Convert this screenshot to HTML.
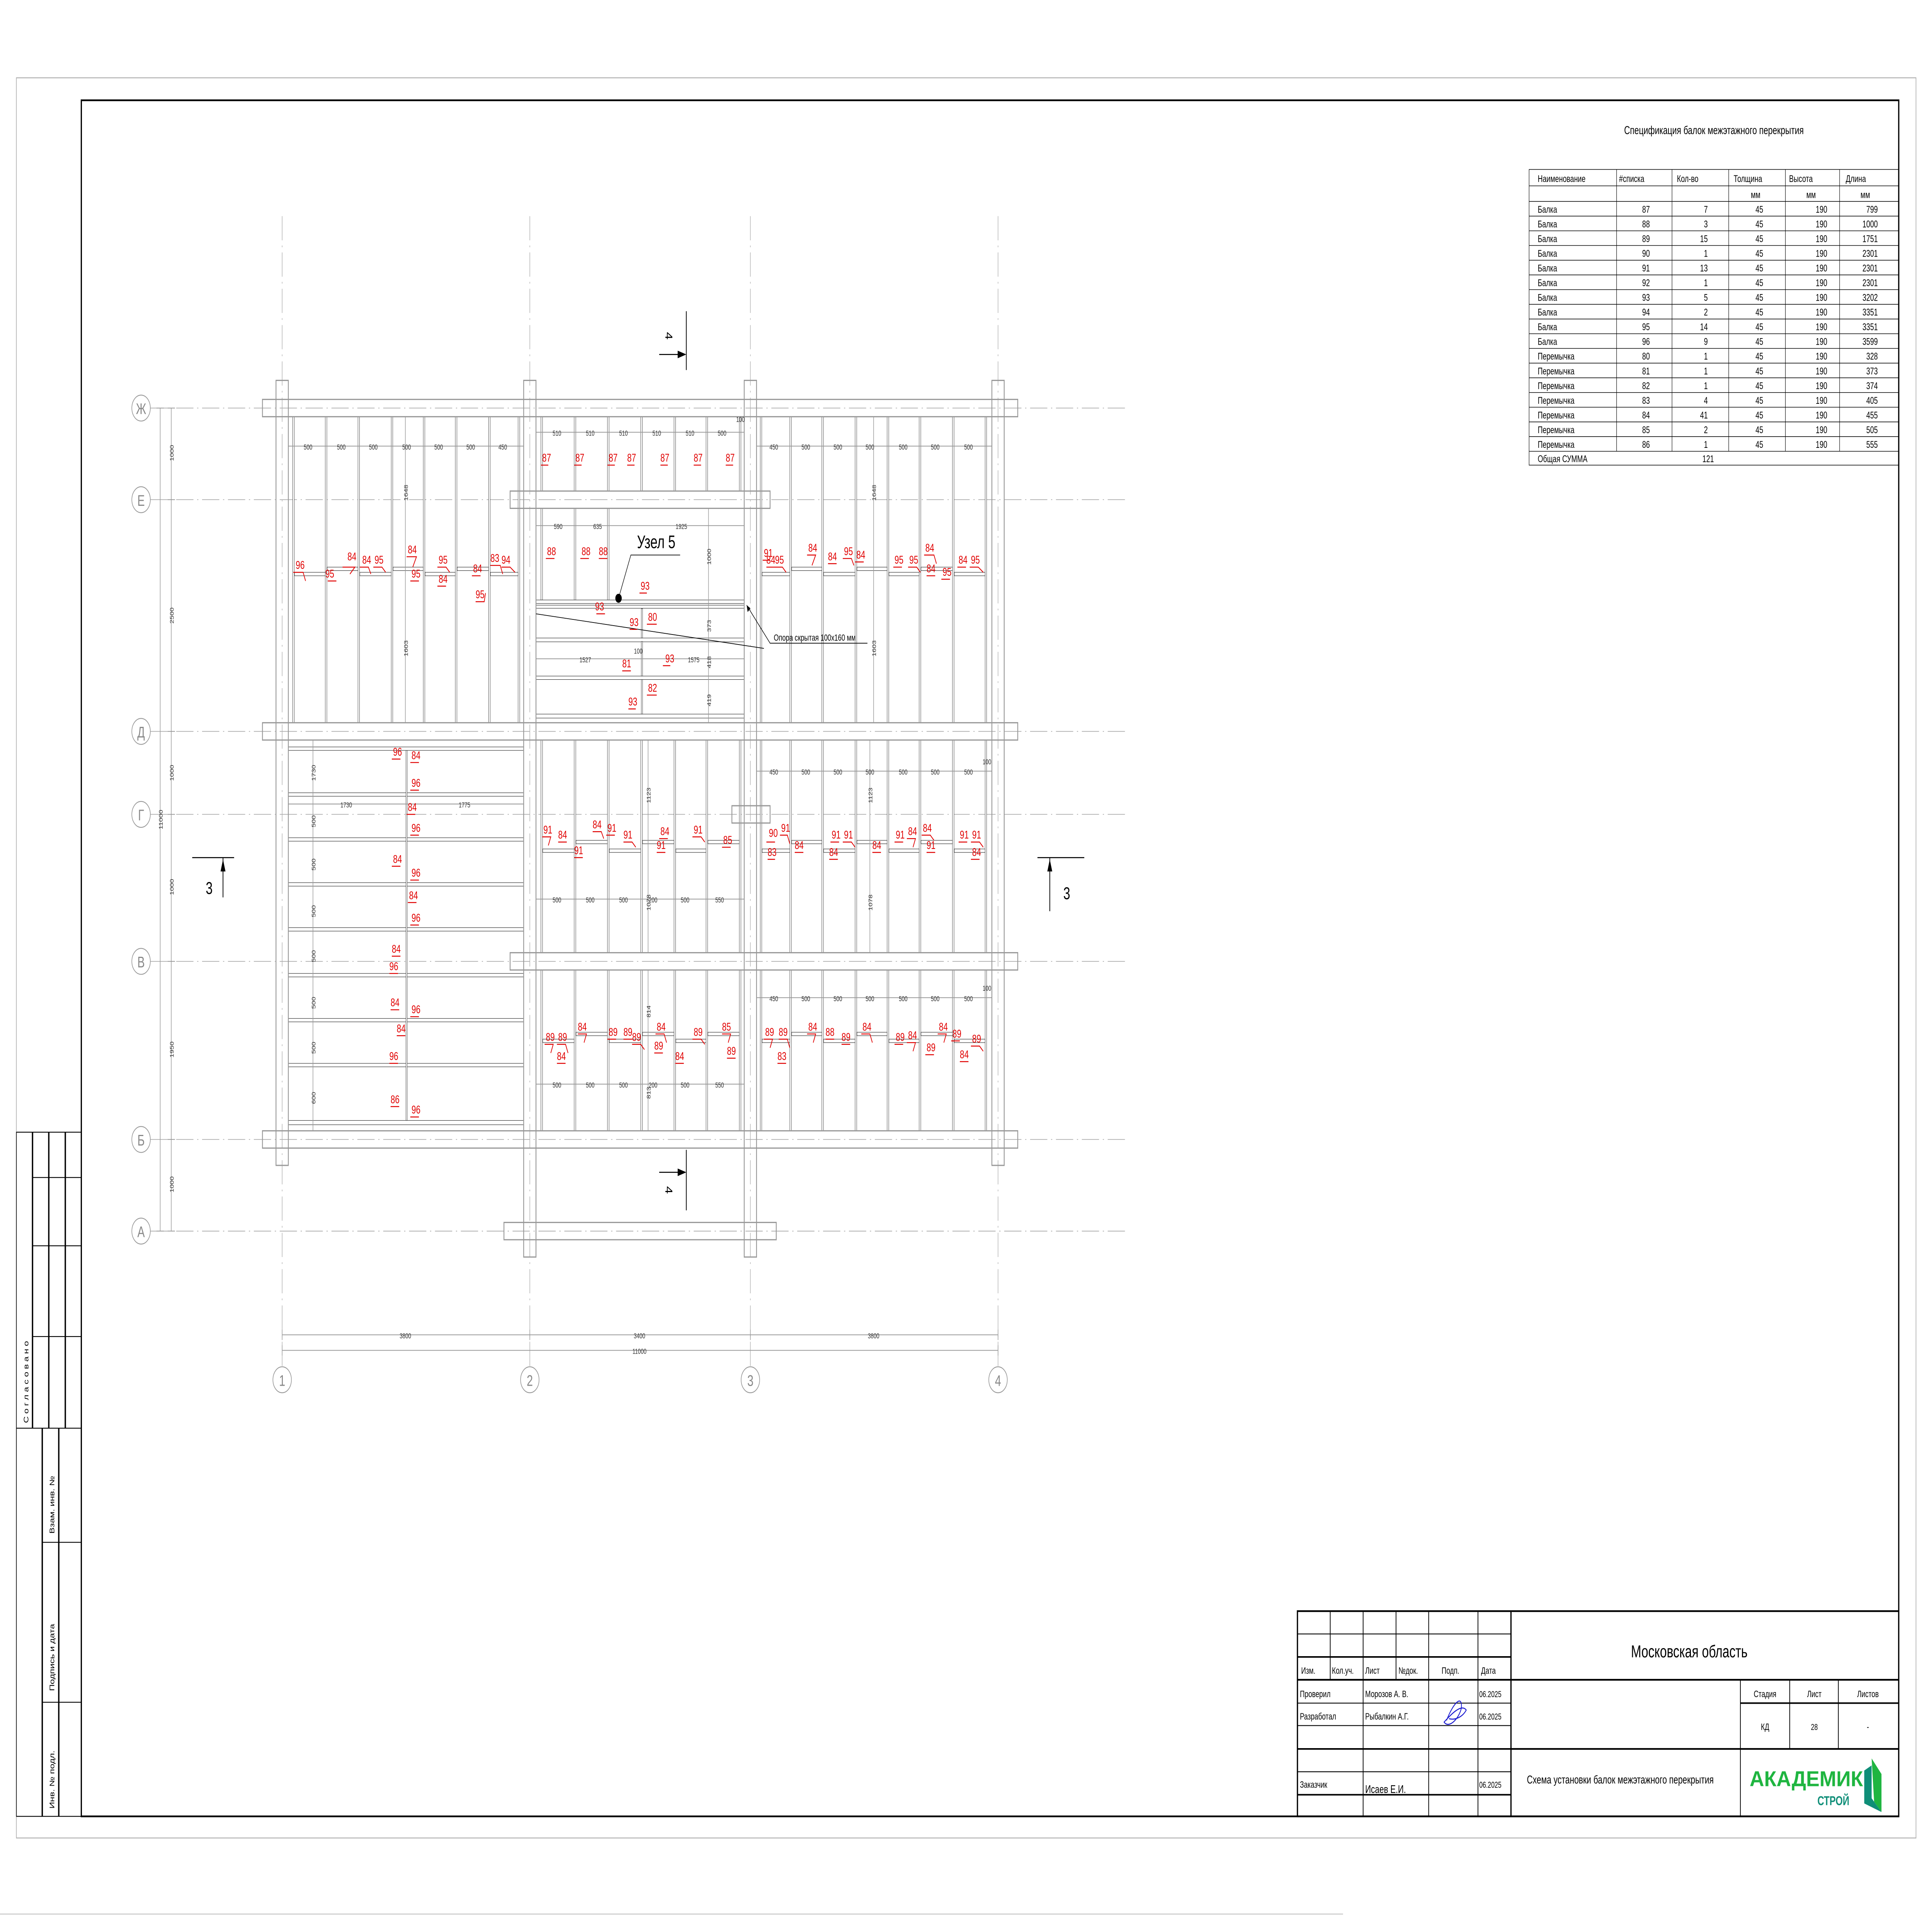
<!DOCTYPE html>
<html><head><meta charset="utf-8">
<style>
html,body{margin:0;padding:0;background:#fff;overflow:hidden;width:100%;height:100%;}
svg{display:block;position:fixed;left:0;top:0;width:100vw;height:100vh;}
text{font-family:"Liberation Sans Narrow","Liberation Sans","DejaVu Sans",sans-serif;}
.g{stroke:#999;stroke-width:0.7;fill:none;}
.ax{stroke:#aaa;stroke-width:0.4;fill:none;stroke-dasharray:14 3 1 3;}
.j{stroke:#222;stroke-width:0.25;fill:#fff;}
.dim{stroke:#999;stroke-width:0.45;fill:none;}
.dt{font-size:4.2px;fill:#333;}
.r text{font-size:6.5px;fill:#e00000;}
.r path{stroke:#e00000;stroke-width:0.55;fill:none;}
.tb{font-size:5.4px;fill:#000;}
.mono{font-family:"Liberation Mono","DejaVu Sans Mono",monospace;font-size:5.6px;fill:#000;}
</style></head>
<body>
<svg viewBox="0 0 1568 1108.7" preserveAspectRatio="none" xmlns="http://www.w3.org/2000/svg">
<rect x="0" y="0" width="1568" height="1108.7" fill="#fff"/>
<rect x="13.3" y="45" width="1541.7" height="1018" fill="none" stroke="#aaa" stroke-width="0.5"/>
<rect x="66" y="58" width="1475" height="992.5" fill="none" stroke="#000" stroke-width="1"/>
<line x1="0" y1="1107" x2="1090" y2="1107" stroke="#ccc" stroke-width="0.6"/>

<g stroke="#000" fill="none" stroke-width="0.5">
<rect x="13.3" y="654.8" width="52.7" height="395.7"/>
<line x1="26.4" y1="654.8" x2="26.4" y2="826" stroke-width="1.1"/>
<line x1="39.6" y1="654.8" x2="39.6" y2="826" stroke-width="1.1"/>
<line x1="53" y1="654.8" x2="53" y2="826" stroke-width="1.1"/>
<line x1="26.4" y1="681" x2="66" y2="681"/>
<line x1="26.4" y1="720.5" x2="66" y2="720.5"/>
<line x1="26.4" y1="773" x2="66" y2="773"/>
<line x1="13.3" y1="826" x2="66" y2="826"/>
<line x1="34.3" y1="826" x2="34.3" y2="1050.5" stroke-width="1.1"/>
<line x1="47.7" y1="826" x2="47.7" y2="1050.5" stroke-width="1.1"/>
<line x1="34.3" y1="892" x2="66" y2="892"/>
<line x1="34.3" y1="984.5" x2="66" y2="984.5"/>
</g>
<text class="tb" transform="translate(23,823) rotate(-90)" font-size="6" letter-spacing="1.5">Согласовано</text>
<text class="tb" transform="translate(44,887) rotate(-90)" font-size="6">Взам. инв. №</text>
<text class="tb" transform="translate(44,978) rotate(-90)" font-size="6">Подпись и дата</text>
<text class="tb" transform="translate(44,1046) rotate(-90)" font-size="6">Инв. № подл.</text>

<g class="ax">
<line x1="229" y1="125" x2="229" y2="790"/><line x1="430" y1="125" x2="430" y2="790"/>
<line x1="609" y1="125" x2="609" y2="790"/><line x1="810" y1="125" x2="810" y2="790"/>
<line x1="122" y1="236" x2="915" y2="236"/><line x1="122" y1="289" x2="915" y2="289"/>
<line x1="122" y1="423" x2="915" y2="423"/><line x1="122" y1="471" x2="915" y2="471"/>
<line x1="122" y1="556" x2="915" y2="556"/><line x1="122" y1="659" x2="915" y2="659"/>
<line x1="122" y1="712" x2="915" y2="712"/>
</g>
<g fill="#fff" stroke="#999" stroke-width="0.5">
<ellipse cx="114.5" cy="236" rx="7.5" ry="7.5"/><ellipse cx="114.5" cy="289" rx="7.5" ry="7.5"/>
<ellipse cx="114.5" cy="423" rx="7.5" ry="7.5"/><ellipse cx="114.5" cy="471" rx="7.5" ry="7.5"/>
<ellipse cx="114.5" cy="556" rx="7.5" ry="7.5"/><ellipse cx="114.5" cy="659" rx="7.5" ry="7.5"/>
<ellipse cx="114.5" cy="712" rx="7.5" ry="7.5"/>
<ellipse cx="229" cy="798" rx="7.5" ry="7.5"/><ellipse cx="430" cy="798" rx="7.5" ry="7.5"/>
<ellipse cx="609" cy="798" rx="7.5" ry="7.5"/><ellipse cx="810" cy="798" rx="7.5" ry="7.5"/>
</g>
<g font-size="9" fill="#888" text-anchor="middle">
<text x="114.5" y="239.5">Ж</text><text x="114.5" y="292.5">Е</text><text x="114.5" y="426.5">Д</text>
<text x="114.5" y="474.5">Г</text><text x="114.5" y="559.5">В</text><text x="114.5" y="662.5">Б</text>
<text x="114.5" y="715.5">А</text>
<text x="229" y="801.5">1</text><text x="430" y="801.5">2</text><text x="609" y="801.5">3</text><text x="810" y="801.5">4</text>
</g>

<g class="j">
<rect x="237.5" y="241" width="1.3" height="177"/><rect x="264" y="241" width="1.3" height="177"/>
<rect x="290.5" y="241" width="1.3" height="177"/><rect x="317.5" y="241" width="1.3" height="177"/>
<rect x="343.5" y="241" width="1.3" height="177"/><rect x="369.5" y="241" width="1.3" height="177"/>
<rect x="396.5" y="241" width="1.3" height="177"/><rect x="420.5" y="241" width="1.3" height="177"/>
<rect x="617" y="241" width="1.3" height="177"/><rect x="641" y="241" width="1.3" height="177"/>
<rect x="667" y="241" width="1.3" height="177"/><rect x="694" y="241" width="1.3" height="177"/>
<rect x="720" y="241" width="1.3" height="177"/><rect x="746" y="241" width="1.3" height="177"/>
<rect x="773" y="241" width="1.3" height="177"/><rect x="799.5" y="241" width="1.3" height="177"/>
<rect x="439" y="241" width="1.3" height="43"/><rect x="466" y="241" width="1.3" height="43"/>
<rect x="493" y="241" width="1.3" height="43"/><rect x="520" y="241" width="1.3" height="43"/>
<rect x="547" y="241" width="1.3" height="43"/><rect x="573" y="241" width="1.3" height="43"/>
<rect x="600" y="241" width="1.3" height="43"/>
<rect x="439" y="294" width="1.3" height="53"/><rect x="466" y="294" width="1.3" height="53"/>
<rect x="493" y="294" width="1.3" height="53"/>
<rect x="435" y="347" width="169" height="2"/><rect x="435" y="350" width="169" height="1.8"/>
<rect x="435" y="369" width="169" height="2.2"/><rect x="435" y="391" width="169" height="2"/>
<rect x="435" y="413" width="169" height="2.3"/>
<rect x="520.5" y="352" width="1" height="17"/><rect x="520.5" y="371" width="1" height="20"/><rect x="520.5" y="393" width="1" height="20"/>
<rect x="234" y="432" width="191" height="2"/><rect x="234" y="458.5" width="191" height="2"/>
<rect x="234" y="484.5" width="191" height="2"/><rect x="234" y="510.5" width="191" height="2"/>
<rect x="234" y="536.5" width="191" height="2"/><rect x="234" y="563" width="191" height="2"/>
<rect x="234" y="589" width="191" height="2"/><rect x="234" y="615" width="191" height="2"/>
<rect x="234" y="648" width="191" height="2.5"/>
<rect x="329.5" y="434" width="1" height="214"/>
<rect x="439" y="428" width="1.3" height="123"/><rect x="466" y="428" width="1.3" height="123"/>
<rect x="493" y="428" width="1.3" height="123"/><rect x="520" y="428" width="1.3" height="123"/>
<rect x="547" y="428" width="1.3" height="123"/><rect x="573" y="428" width="1.3" height="123"/>
<rect x="600" y="428" width="1.3" height="123"/>
<rect x="439" y="561" width="1.3" height="93"/><rect x="466" y="561" width="1.3" height="93"/>
<rect x="493" y="561" width="1.3" height="93"/><rect x="520" y="561" width="1.3" height="93"/>
<rect x="547" y="561" width="1.3" height="93"/><rect x="573" y="561" width="1.3" height="93"/>
<rect x="600" y="561" width="1.3" height="93"/>
<rect x="617" y="428" width="1.3" height="123"/><rect x="641" y="428" width="1.3" height="123"/>
<rect x="667" y="428" width="1.3" height="123"/><rect x="694" y="428" width="1.3" height="123"/>
<rect x="720" y="428" width="1.3" height="123"/><rect x="746" y="428" width="1.3" height="123"/>
<rect x="773" y="428" width="1.3" height="123"/><rect x="799.5" y="428" width="1.3" height="123"/>
<rect x="617" y="561" width="1.3" height="93"/><rect x="641" y="561" width="1.3" height="93"/>
<rect x="667" y="561" width="1.3" height="93"/><rect x="694" y="561" width="1.3" height="93"/>
<rect x="720" y="561" width="1.3" height="93"/><rect x="746" y="561" width="1.3" height="93"/>
<rect x="773" y="561" width="1.3" height="93"/><rect x="799.5" y="561" width="1.3" height="93"/>
<rect x="239" y="331" width="25" height="2"/><rect x="265.5" y="328" width="25" height="2"/>
<rect x="292" y="331" width="25.5" height="2"/><rect x="319" y="328" width="24.5" height="2"/>
<rect x="345" y="331" width="24.5" height="2"/><rect x="371" y="328" width="25.5" height="2"/>
<rect x="398" y="331" width="22.5" height="2"/>
<rect x="618.5" y="331" width="22.5" height="2"/><rect x="642.5" y="328" width="24.5" height="2"/>
<rect x="668.5" y="331" width="25.5" height="2"/><rect x="695.5" y="328" width="24.5" height="2"/>
<rect x="721.5" y="331" width="24.5" height="2"/><rect x="747.5" y="328" width="25.5" height="2"/>
<rect x="774.5" y="331" width="25" height="2"/>
<rect x="440.5" y="491" width="25.5" height="2"/><rect x="467.5" y="486" width="25.5" height="2"/>
<rect x="494.5" y="491" width="25.5" height="2"/><rect x="521.5" y="486" width="25.5" height="2"/>
<rect x="548.5" y="491" width="24.5" height="2"/><rect x="574.5" y="486" width="25.5" height="2"/>
<rect x="618.5" y="491" width="22.5" height="2"/><rect x="642.5" y="486" width="24.5" height="2"/>
<rect x="668.5" y="491" width="25.5" height="2"/><rect x="695.5" y="486" width="24.5" height="2"/>
<rect x="721.5" y="491" width="24.5" height="2"/><rect x="747.5" y="486" width="25.5" height="2"/>
<rect x="774.5" y="491" width="25" height="2"/>
<rect x="440.5" y="601" width="25.5" height="2"/><rect x="467.5" y="597" width="25.5" height="2"/>
<rect x="494.5" y="601" width="25.5" height="2"/><rect x="521.5" y="597" width="25.5" height="2"/>
<rect x="548.5" y="601" width="24.5" height="2"/><rect x="574.5" y="597" width="25.5" height="2"/>
<rect x="618.5" y="601" width="22.5" height="2"/><rect x="642.5" y="597" width="24.5" height="2"/>
<rect x="668.5" y="601" width="25.5" height="2"/><rect x="695.5" y="597" width="24.5" height="2"/>
<rect x="721.5" y="601" width="24.5" height="2"/><rect x="747.5" y="597" width="25.5" height="2"/>
<rect x="774.5" y="601" width="25" height="2"/>
</g>

<g class="g">
<rect x="213" y="231" width="613" height="10"/>
<rect x="213" y="418" width="613" height="10"/>
<rect x="213" y="654" width="613" height="10"/>
<rect x="414" y="284" width="211" height="10"/>
<rect x="414" y="551" width="412" height="10"/>
<rect x="409" y="707" width="221" height="10"/>
<rect x="594" y="466" width="31" height="10"/>
<rect x="224" y="220" width="10" height="454"/>
<rect x="425" y="220" width="10" height="507"/>
<rect x="604" y="220" width="10" height="507"/>
<rect x="805" y="220" width="10" height="454"/>
</g>

<g class="dim">
<line x1="139" y1="236" x2="139" y2="712"/><line x1="130" y1="236" x2="130" y2="712"/>
<path d="M136,236h6M136,289h6M136,423h6M136,471h6M136,556h6M136,659h6M136,712h6M127,236h6M127,712h6"/>
<line x1="229" y1="772" x2="810" y2="772"/><line x1="229" y1="781" x2="810" y2="781"/>
<path d="M229,769v6M430,769v6M609,769v6M810,769v6M229,778v6M810,778v6"/>
<line x1="234" y1="258" x2="425" y2="258"/><line x1="614" y1="258" x2="805" y2="258"/>
<line x1="435" y1="250" x2="604" y2="250"/><line x1="435" y1="304" x2="604" y2="304"/>
<line x1="435" y1="381" x2="604" y2="381"/>
<line x1="614" y1="446" x2="805" y2="446"/><line x1="435" y1="520" x2="604" y2="520"/>
<line x1="614" y1="577" x2="805" y2="577"/><line x1="435" y1="627" x2="604" y2="627"/>
<line x1="329" y1="241" x2="329" y2="418"/><line x1="709" y1="241" x2="709" y2="418"/>
<line x1="526" y1="428" x2="526" y2="551"/><line x1="706" y1="428" x2="706" y2="551"/>
<line x1="526" y1="561" x2="526" y2="654"/>
<line x1="575" y1="294" x2="575" y2="418"/>
<line x1="254" y1="428" x2="254" y2="654"/>
<line x1="234" y1="465" x2="425" y2="465"/>
</g>
<g class="dt" text-anchor="middle">
<text transform="translate(141,262) rotate(-90)">1000</text>
<text transform="translate(141,356) rotate(-90)">2500</text>
<text transform="translate(141,447) rotate(-90)">1000</text>
<text transform="translate(141,513) rotate(-90)">1000</text>
<text transform="translate(141,607) rotate(-90)">1950</text>
<text transform="translate(141,685) rotate(-90)">1000</text>
<text transform="translate(132,474) rotate(-90)">11000</text>
<text x="329" y="774">3800</text><text x="519" y="774">3400</text><text x="709" y="774">3800</text>
<text x="519" y="783">11000</text>
<text x="250" y="260">500</text><text x="277" y="260">500</text><text x="303" y="260">500</text>
<text x="330" y="260">500</text><text x="356" y="260">500</text><text x="382" y="260">500</text><text x="408" y="260">450</text>
<text x="628" y="260">450</text><text x="654" y="260">500</text><text x="680" y="260">500</text>
<text x="706" y="260">500</text><text x="733" y="260">500</text><text x="759" y="260">500</text><text x="786" y="260">500</text>
<text x="452" y="252">510</text><text x="479" y="252">510</text><text x="506" y="252">510</text>
<text x="533" y="252">510</text><text x="560" y="252">510</text><text x="586" y="252">500</text>
<text x="453" y="306">590</text><text x="485" y="306">635</text><text x="553" y="306">1925</text>
<text x="475" y="383">1527</text><text x="563" y="383">1575</text>
<text x="628" y="448">450</text><text x="654" y="448">500</text><text x="680" y="448">500</text>
<text x="706" y="448">500</text><text x="733" y="448">500</text><text x="759" y="448">500</text><text x="786" y="448">500</text>
<text x="452" y="522">500</text><text x="479" y="522">500</text><text x="506" y="522">500</text>
<text x="530" y="522">200</text><text x="556" y="522">500</text><text x="584" y="522">550</text>
<text x="628" y="579">450</text><text x="654" y="579">500</text><text x="680" y="579">500</text>
<text x="706" y="579">500</text><text x="733" y="579">500</text><text x="759" y="579">500</text><text x="786" y="579">500</text>
<text x="452" y="629">500</text><text x="479" y="629">500</text><text x="506" y="629">500</text>
<text x="530" y="629">200</text><text x="556" y="629">500</text><text x="584" y="629">550</text>
<text x="281" y="467">1730</text><text x="377" y="467">1775</text>
<text x="518" y="378">100</text><text x="601" y="244">100</text><text x="801" y="442">100</text><text x="801" y="573">100</text>
<text transform="translate(331,285) rotate(-90)">1648</text>
<text transform="translate(331,375) rotate(-90)">1603</text>
<text transform="translate(711,285) rotate(-90)">1648</text>
<text transform="translate(711,375) rotate(-90)">1603</text>
<text transform="translate(577,322) rotate(-90)">1000</text>
<text transform="translate(577,362) rotate(-90)">373</text>
<text transform="translate(577,383) rotate(-90)">418</text>
<text transform="translate(577,405) rotate(-90)">419</text>
<text transform="translate(528,460) rotate(-90)">1123</text>
<text transform="translate(528,522) rotate(-90)">1078</text>
<text transform="translate(708,460) rotate(-90)">1123</text>
<text transform="translate(708,522) rotate(-90)">1078</text>
<text transform="translate(528,585) rotate(-90)">814</text>
<text transform="translate(528,632) rotate(-90)">813</text>
<text transform="translate(256,447) rotate(-90)">1730</text>
<text transform="translate(256,475) rotate(-90)">500</text>
<text transform="translate(256,500) rotate(-90)">500</text>
<text transform="translate(256,527) rotate(-90)">500</text>
<text transform="translate(256,553) rotate(-90)">500</text>
<text transform="translate(256,580) rotate(-90)">500</text>
<text transform="translate(256,606) rotate(-90)">500</text>
<text transform="translate(256,635) rotate(-90)">600</text>
</g>

<text x="517" y="317" font-size="10.5" fill="#000">Узел 5</text>
<circle cx="502" cy="346" r="2.6" fill="#000"/>
<path d="M502,346 L512,321 L552,321" stroke="#000" stroke-width="0.4" fill="none"/>
<path d="M435,355 L620,375" stroke="#000" stroke-width="0.4" fill="none"/>
<path d="M606,350 L625,372 L704,372" stroke="#000" stroke-width="0.4" fill="none"/>
<path d="M606,350 l0.8,4 l2.2,-2.2 z" fill="#000"/>
<text x="628" y="370.5" font-size="5.2" fill="#000">Опора скрытая 100х160 мм</text>

<g stroke="#000" stroke-width="0.6" fill="none">
<line x1="156" y1="496" x2="190" y2="496"/><line x1="181" y1="496" x2="181" y2="519"/>
<line x1="842" y1="496" x2="880" y2="496"/><line x1="852" y1="496" x2="852" y2="527"/>
<line x1="557" y1="180" x2="557" y2="214"/><line x1="535" y1="205" x2="553" y2="205"/>
<line x1="557" y1="665" x2="557" y2="700"/><line x1="535" y1="678" x2="553" y2="678"/>
</g>
<g fill="#000">
<path d="M181,497 l-2,7 h4 z"/><path d="M852,497 l-2,7 h4 z"/>
<path d="M557,205 l-7,-2.2 v4.4 z"/><path d="M557,678 l-7,-2.2 v4.4 z"/>
</g>
<text x="167" y="517" font-size="10" fill="#000">3</text>
<text x="863" y="520" font-size="10" fill="#000">3</text>
<text transform="translate(540,192) rotate(90)" font-size="8" fill="#000">4</text>
<text transform="translate(540,686) rotate(90)" font-size="8" fill="#000">4</text>

<g class="r">
<text x="240" y="329">96</text><path d="M238,331h8l2,5"/>
<text x="264" y="334">95</text><path d="M266,336h7"/>
<text x="282" y="324">84</text><path d="M278,328h10l-4,4"/>
<text x="294" y="326">84</text><path d="M292,328h7l2,4"/>
<text x="304" y="326">95</text><path d="M303,328h7l3,3"/>
<text x="331" y="320">84</text><path d="M330,322h8l-3,6"/>
<text x="334" y="334">95</text><path d="M333,336h7"/>
<text x="356" y="326">95</text><path d="M355,328h7l3,3"/>
<text x="356" y="337">84</text><path d="M355,339h7"/>
<text x="384" y="331">84</text><path d="M383,333h7"/>
<text x="386" y="346">95</text><path d="M386,348h7l1,-5"/>
<text x="398" y="325">83</text><path d="M398,327h8l2,5"/>
<text x="407" y="326">94</text><path d="M407,328h7l4,3"/>
<text x="440" y="267">87</text><path d="M439,269h6"/>
<text x="467" y="267">87</text><path d="M466,269h6"/>
<text x="494" y="267">87</text><path d="M493,269h6"/>
<text x="509" y="267">87</text><path d="M509,269h6"/>
<text x="536" y="267">87</text><path d="M536,269h6"/>
<text x="563" y="267">87</text><path d="M563,269h6"/>
<text x="589" y="267">87</text><path d="M589,269h6"/>
<text x="444" y="321">88</text><path d="M443,323h7"/>
<text x="472" y="321">88</text><path d="M471,323h7"/>
<text x="486" y="321">88</text><path d="M486,323h7"/>
<text x="520" y="341">93</text><path d="M519,343h6"/>
<text x="483" y="353">93</text><path d="M484,355h7"/>
<text x="511" y="362">93</text><path d="M511,364h6"/>
<text x="526" y="359">80</text><path d="M525,361h8"/>
<text x="505" y="386">81</text><path d="M505,388h7"/>
<text x="540" y="383">93</text><path d="M538,385h6"/>
<text x="526" y="400">82</text><path d="M525,402h8"/>
<text x="510" y="408">93</text><path d="M510,410h6"/>
<text x="620" y="322">91</text><path d="M619,324h6"/>
<text x="622" y="326">84</text><path d="M622,328h6"/>
<text x="629" y="326">95</text><path d="M628,328h7l3,3"/>
<text x="656" y="319">84</text><path d="M655,321h7l-3,6"/>
<text x="672" y="324">84</text><path d="M672,326h7"/>
<text x="685" y="321">95</text><path d="M684,323h7l2,4"/>
<text x="695" y="323">84</text><path d="M694,325h7"/>
<text x="726" y="326">95</text><path d="M725,328h7"/>
<text x="738" y="326">95</text><path d="M737,328h7l3,3"/>
<text x="751" y="319">84</text><path d="M750,321h8l2,5"/>
<text x="752" y="331">84</text><path d="M752,333h7"/>
<text x="765" y="333">95</text><path d="M764,335h7"/>
<text x="778" y="326">84</text><path d="M777,328h7"/>
<text x="788" y="326">95</text><path d="M787,328h7l4,3"/>
<text x="319" y="437">96</text><path d="M318,439h7"/>
<text x="334" y="439">84</text><path d="M333,441h7"/>
<text x="334" y="455">96</text><path d="M333,457h7"/>
<text x="331" y="469">84</text><path d="M330,471h7"/>
<text x="334" y="481">96</text><path d="M333,483h7"/>
<text x="319" y="499">84</text><path d="M318,501h7"/>
<text x="334" y="507">96</text><path d="M333,509h7"/>
<text x="332" y="520">84</text><path d="M331,522h7"/>
<text x="334" y="533">96</text><path d="M333,535h7"/>
<text x="318" y="551">84</text><path d="M318,553h7"/>
<text x="316" y="561">96</text><path d="M316,563h7"/>
<text x="317" y="582">84</text><path d="M317,584h7"/>
<text x="334" y="586">96</text><path d="M333,588h7"/>
<text x="322" y="597">84</text><path d="M322,599h7"/>
<text x="316" y="613">96</text><path d="M316,615h7"/>
<text x="317" y="638">86</text><path d="M317,640h7"/>
<text x="334" y="644">96</text><path d="M333,646h7"/>
<text x="441" y="482">91</text><path d="M440,484h7l-2,5"/>
<text x="453" y="485">84</text><path d="M453,487h7"/>
<text x="466" y="494">91</text><path d="M466,496h7"/>
<text x="481" y="479">84</text><path d="M481,481h7l2,4"/>
<text x="493" y="481">91</text><path d="M492,483h7"/>
<text x="506" y="485">91</text><path d="M506,487h7l3,3"/>
<text x="536" y="483">84</text><path d="M535,485h7"/>
<text x="533" y="491">91</text><path d="M533,493h7"/>
<text x="563" y="482">91</text><path d="M562,484h7l3,3"/>
<text x="587" y="488">85</text><path d="M586,490h7"/>
<text x="624" y="484">90</text><path d="M622,487h7"/>
<text x="634" y="481">91</text><path d="M633,483h6l2,5"/>
<text x="623" y="495">83</text><path d="M623,497h6"/>
<text x="645" y="491">84</text><path d="M645,493h7"/>
<text x="675" y="485">91</text><path d="M674,487h7"/>
<text x="685" y="485">91</text><path d="M684,487h7l3,3"/>
<text x="673" y="495">84</text><path d="M673,497h7"/>
<text x="708" y="491">84</text><path d="M708,493h7"/>
<text x="727" y="485">91</text><path d="M726,487h7"/>
<text x="737" y="483">84</text><path d="M736,485h7l-2,5"/>
<text x="749" y="481">84</text><path d="M748,483h7l3,3"/>
<text x="752" y="491">91</text><path d="M752,493h7"/>
<text x="779" y="485">91</text><path d="M778,487h7"/>
<text x="789" y="485">91</text><path d="M788,487h7l3,3"/>
<text x="789" y="495">84</text><path d="M788,497h7"/>
<text x="443" y="602">89</text><path d="M442,604h7l-2,5"/>
<text x="453" y="602">89</text><path d="M452,604h7l2,5"/>
<text x="452" y="613">84</text><path d="M452,615h7"/>
<text x="469" y="596">84</text><path d="M469,598h7l-2,5"/>
<text x="494" y="599">89</text><path d="M493,601h7"/>
<text x="506" y="599">89</text><path d="M506,601h7"/>
<text x="513" y="602">89</text><path d="M513,604h7l3,3"/>
<text x="533" y="596">84</text><path d="M532,598h7l2,5"/>
<text x="531" y="607">89</text><path d="M531,609h7"/>
<text x="548" y="613">84</text><path d="M548,615h7"/>
<text x="563" y="599">89</text><path d="M562,601h7l3,3"/>
<text x="586" y="596">85</text><path d="M586,598h7l-2,5"/>
<text x="590" y="610">89</text><path d="M590,612h7"/>
<text x="621" y="599">89</text><path d="M620,601h7l-2,5"/>
<text x="632" y="599">89</text><path d="M632,601h7l2,5"/>
<text x="631" y="613">83</text><path d="M631,615h7"/>
<text x="656" y="596">84</text><path d="M655,598h7l-2,5"/>
<text x="670" y="599">88</text><path d="M670,601h7"/>
<text x="683" y="602">89</text><path d="M683,604h7"/>
<text x="700" y="596">84</text><path d="M699,598h7l2,5"/>
<text x="727" y="602">89</text><path d="M726,604h7"/>
<text x="737" y="601">84</text><path d="M736,603h7l-2,5"/>
<text x="752" y="608">89</text><path d="M751,610h7"/>
<text x="762" y="596">84</text><path d="M761,598h7l-2,5"/>
<text x="773" y="600">89</text><path d="M772,602h7"/>
<text x="779" y="612">84</text><path d="M779,614h7"/>
<text x="789" y="603">89</text><path d="M788,605h7l3,3"/>
</g>

<text x="1391" y="77.5" font-size="6.6" fill="#000" text-anchor="middle">Спецификация балок межэтажного перекрытия</text>
<g stroke="#000" stroke-width="0.35" fill="none">
<rect x="1241" y="98" width="300" height="171"/>
<path d="M1312,98V261M1357,98V261M1403,98V261M1449,98V261M1493,98V261"/>
<path d="M1241,107.5H1541M1241,116.5H1541M1241,125H1541M1241,133.5H1541M1241,142H1541M1241,150.5H1541M1241,159H1541M1241,167.5H1541M1241,176H1541M1241,184.5H1541M1241,193H1541M1241,201.5H1541M1241,210H1541M1241,218.5H1541M1241,227H1541M1241,235.5H1541M1241,244H1541M1241,252.5H1541M1241,261H1541"/>
</g>
<g class="mono">
<text x="1248" y="105.3">Наименование</text><text x="1314" y="105.3">#списка</text><text x="1361" y="105.3">Кол-во</text>
<text x="1407" y="105.3">Толщина</text><text x="1452" y="105.3">Высота</text><text x="1498" y="105.3">Длина</text>
<text x="1421" y="114.5">мм</text><text x="1466" y="114.5">мм</text><text x="1510" y="114.5">мм</text>
</g>
<g class="mono">
<text x="1248" y="123">Балка</text><text x="1248" y="131.5">Балка</text><text x="1248" y="140">Балка</text>
<text x="1248" y="148.5">Балка</text><text x="1248" y="157">Балка</text><text x="1248" y="165.5">Балка</text>
<text x="1248" y="174">Балка</text><text x="1248" y="182.5">Балка</text><text x="1248" y="191">Балка</text>
<text x="1248" y="199.5">Балка</text><text x="1248" y="208">Перемычка</text><text x="1248" y="216.5">Перемычка</text>
<text x="1248" y="225">Перемычка</text><text x="1248" y="233.5">Перемычка</text><text x="1248" y="242">Перемычка</text>
<text x="1248" y="250.5">Перемычка</text><text x="1248" y="259">Перемычка</text>
<text x="1248" y="267.3">Общая СУММА</text>
</g>
<g class="mono" text-anchor="end">
<text x="1339" y="123">87</text><text x="1339" y="131.5">88</text><text x="1339" y="140">89</text><text x="1339" y="148.5">90</text>
<text x="1339" y="157">91</text><text x="1339" y="165.5">92</text><text x="1339" y="174">93</text><text x="1339" y="182.5">94</text>
<text x="1339" y="191">95</text><text x="1339" y="199.5">96</text><text x="1339" y="208">80</text><text x="1339" y="216.5">81</text>
<text x="1339" y="225">82</text><text x="1339" y="233.5">83</text><text x="1339" y="242">84</text><text x="1339" y="250.5">85</text>
<text x="1339" y="259">86</text>
<text x="1386" y="123">7</text><text x="1386" y="131.5">3</text><text x="1386" y="140">15</text><text x="1386" y="148.5">1</text>
<text x="1386" y="157">13</text><text x="1386" y="165.5">1</text><text x="1386" y="174">5</text><text x="1386" y="182.5">2</text>
<text x="1386" y="191">14</text><text x="1386" y="199.5">9</text><text x="1386" y="208">1</text><text x="1386" y="216.5">1</text>
<text x="1386" y="225">1</text><text x="1386" y="233.5">4</text><text x="1386" y="242">41</text><text x="1386" y="250.5">2</text>
<text x="1386" y="259">1</text><text x="1391" y="267.3">121</text>
<text x="1431" y="123">45</text><text x="1431" y="131.5">45</text><text x="1431" y="140">45</text><text x="1431" y="148.5">45</text>
<text x="1431" y="157">45</text><text x="1431" y="165.5">45</text><text x="1431" y="174">45</text><text x="1431" y="182.5">45</text>
<text x="1431" y="191">45</text><text x="1431" y="199.5">45</text><text x="1431" y="208">45</text><text x="1431" y="216.5">45</text>
<text x="1431" y="225">45</text><text x="1431" y="233.5">45</text><text x="1431" y="242">45</text><text x="1431" y="250.5">45</text>
<text x="1431" y="259">45</text>
<text x="1483" y="123">190</text><text x="1483" y="131.5">190</text><text x="1483" y="140">190</text><text x="1483" y="148.5">190</text>
<text x="1483" y="157">190</text><text x="1483" y="165.5">190</text><text x="1483" y="174">190</text><text x="1483" y="182.5">190</text>
<text x="1483" y="191">190</text><text x="1483" y="199.5">190</text><text x="1483" y="208">190</text><text x="1483" y="216.5">190</text>
<text x="1483" y="225">190</text><text x="1483" y="233.5">190</text><text x="1483" y="242">190</text><text x="1483" y="250.5">190</text>
<text x="1483" y="259">190</text>
<text x="1524" y="123">799</text><text x="1524" y="131.5">1000</text><text x="1524" y="140">1751</text><text x="1524" y="148.5">2301</text>
<text x="1524" y="157">2301</text><text x="1524" y="165.5">2301</text><text x="1524" y="174">3202</text><text x="1524" y="182.5">3351</text>
<text x="1524" y="191">3351</text><text x="1524" y="199.5">3599</text><text x="1524" y="208">328</text><text x="1524" y="216.5">373</text>
<text x="1524" y="225">374</text><text x="1524" y="233.5">405</text><text x="1524" y="242">455</text><text x="1524" y="250.5">505</text>
<text x="1524" y="259">555</text>
</g>

<g stroke="#000" fill="none">
<rect x="1053" y="931.8" width="488" height="118.7" stroke-width="1"/>
<line x1="1226.3" y1="931.8" x2="1226.3" y2="1050.5" stroke-width="1"/>
<path d="M1079.6,931.8V971.5M1133,931.8V971.5" stroke-width="0.6"/>
<path d="M1106.3,931.8V1050.5M1159.5,931.8V1050.5M1199.5,931.8V1050.5" stroke-width="0.6"/>
<path d="M1053,945H1226.3M1053,985H1226.3M1053,998H1226.3M1053,1024.7H1226.3" stroke-width="0.5"/>
<path d="M1053,958.3H1226.3M1053,1011.5H1226.3M1053,1038H1226.3" stroke-width="0.9"/>
<path d="M1053,971.5H1541M1226.3,1011.5H1541" stroke-width="1"/>
<path d="M1412.5,971.5V1050.5M1452.5,971.5V1011.5M1492,971.5V1011.5" stroke-width="0.6"/>
<path d="M1412.5,985H1541" stroke-width="0.9"/>
</g>
<g class="tb">
<text x="1056" y="968">Изм.</text><text x="1081" y="968">Кол.уч.</text><text x="1108" y="968">Лист</text>
<text x="1135" y="968">№док.</text><text x="1170" y="968">Подп.</text><text x="1202" y="968">Дата</text>
<text x="1055" y="981.5">Проверил</text><text x="1108" y="981.5">Морозов А. В.</text><text x="1200.5" y="981.5" font-size="5">06.2025</text>
<text x="1055" y="994.5">Разработал</text><text x="1108" y="994.5">Рыбалкин А.Г.</text><text x="1200.5" y="994.5" font-size="5">06.2025</text>
<text x="1055" y="1034">Заказчик</text><text x="1108" y="1037" font-size="6.5">Исаев Е.И.</text><text x="1200.5" y="1034" font-size="5">06.2025</text>
<text x="1432.5" y="981.5" text-anchor="middle">Стадия</text><text x="1472.5" y="981.5" text-anchor="middle">Лист</text><text x="1516" y="981.5" text-anchor="middle">Листов</text>
<text x="1432.5" y="1000.5" text-anchor="middle">КД</text><text x="1472.5" y="1000.5" text-anchor="middle" font-size="5">28</text><text x="1516" y="1000.5" text-anchor="middle">-</text>
<text x="1315" y="1031.5" text-anchor="middle" font-size="6.6">Схема установки балок межэтажного перекрытия</text>
</g>
<text x="1371" y="958.5" text-anchor="middle" font-size="10" fill="#000">Московская область</text>
<path d="M1174,995 C1180,984 1187,980 1186,988 C1184,994 1176,1000 1172,996 C1177,992 1186,985 1190,989 C1187,993 1181,995 1176,994" stroke="#1a1ad0" stroke-width="0.6" fill="none"/>
<text x="1420" y="1033" font-size="12.5" font-weight="bold" fill="#1fb540" font-family="Liberation Sans, sans-serif" textLength="92" lengthAdjust="spacingAndGlyphs">АКАДЕМИК</text>
<text x="1475" y="1044" font-size="7.5" font-weight="bold" fill="#0f8e78" font-family="Liberation Sans, sans-serif">СТРОЙ</text>
<path d="M1519,1017 L1527,1026 L1527,1048 L1521,1042 Z" fill="#1fb540"/>
<path d="M1513,1024 L1519,1021 L1519,1040 L1527,1048 L1513,1043 Z" fill="#0f8e78"/>
</svg>
</body></html>
